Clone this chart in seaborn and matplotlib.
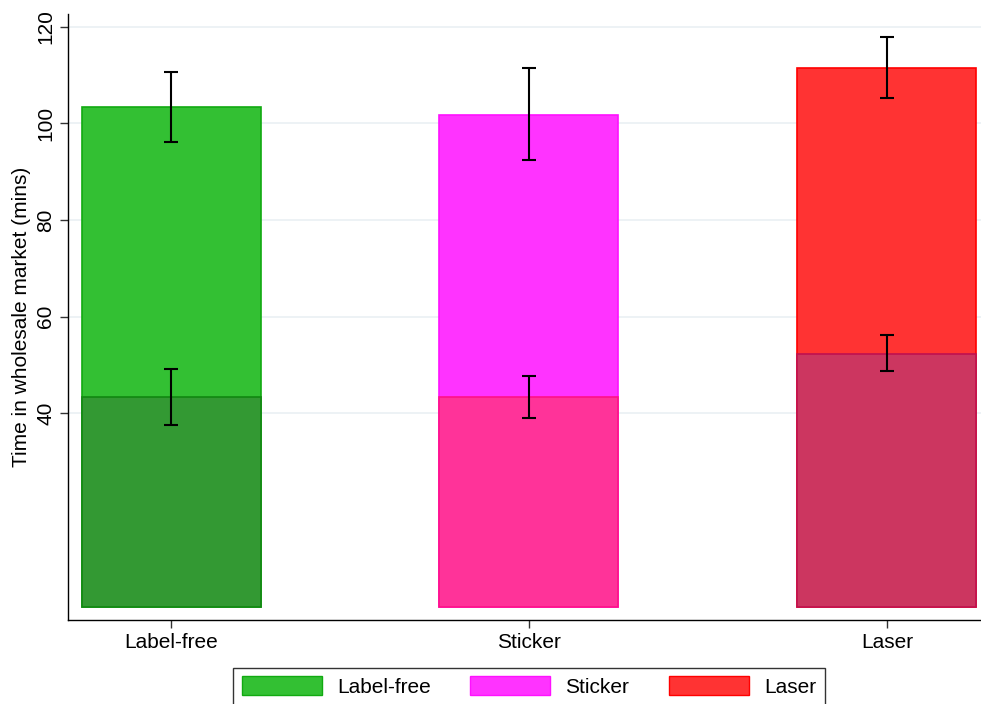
import matplotlib
matplotlib.use("Agg")
import matplotlib.pyplot as plt
import seaborn as sns
import pandas as pd
import numpy as np
from matplotlib.patches import Patch

categories = ["Label-free", "Sticker", "Laser"]
total_mean = [103.3, 101.7, 111.4]
total_lo = [96.2, 92.4, 105.2]
total_hi = [110.7, 111.5, 117.8]
part_mean = [43.3, 43.3, 52.3]
part_lo = [37.6, 39.0, 48.8]
part_hi = [49.1, 47.8, 56.1]

top_colors = ["#33C033", "#FF33FF", "#FF3333"]
top_edges = ["#11AA11", "#FF11FF", "#FF0000"]
low_colors = ["#339933", "#FF3399", "#CC3660"]
low_edges = ["#118811", "#FF1188", "#C01050"]

sns.set_theme(style="white")
plt.rcParams["font.family"] = ["Liberation Sans", "DejaVu Sans"]
plt.rcParams.update({"text.color": "black", "axes.labelcolor": "black",
                     "xtick.color": "black", "ytick.color": "black"})

df_total = pd.DataFrame({"cat": categories, "val": total_mean})
df_part = pd.DataFrame({"cat": categories, "val": part_mean})

fig = plt.figure(figsize=(9.81, 7.04), dpi=100)
ax = fig.add_axes([68/981, (704-620)/704, (981-68)/981, (620-14)/704])

sns.barplot(data=df_total, x="cat", y="val", hue="cat", palette=top_colors,
            width=0.5, ax=ax, legend=False, errorbar=None, saturation=1)
n = len(categories)
for i, p in enumerate(ax.patches[:n]):
    p.set_edgecolor(top_edges[i]); p.set_linewidth(1.2)
sns.barplot(data=df_part, x="cat", y="val", hue="cat", palette=low_colors,
            width=0.5, ax=ax, legend=False, errorbar=None, saturation=1)
for i, p in enumerate(ax.patches[n:2*n]):
    p.set_edgecolor(low_edges[i]); p.set_linewidth(1.2)

x = np.arange(n)
for m, lo, hi in [(total_mean, total_lo, total_hi), (part_mean, part_lo, part_hi)]:
    m = np.array(m); lo = np.array(lo); hi = np.array(hi)
    ax.errorbar(x, m, yerr=[m - lo, hi - m], fmt="none", ecolor="black",
                elinewidth=1.5, capsize=5, capthick=1.5, zorder=5)

FS = 15
ax.set_xlim(-0.288, 2.263)
ax.set_ylim(-2.76, 122.6)
ax.set_yticks([40, 60, 80, 100, 120])
ax.set_yticklabels(["40", "60", "80", "100", "120"], rotation=90, va="center", fontsize=FS)
ax.set_xticks(x)
ax.set_xticklabels(categories, fontsize=FS)
ax.set_xlabel("")
ax.set_ylabel("Time in wholesale market (mins)", fontsize=FS, labelpad=4, color="black")
ax.grid(axis="y", color="#EAF0F3", linewidth=1.2)
ax.set_axisbelow(True)
for s in ["top", "right"]:
    ax.spines[s].set_visible(False)
for s in ["left", "bottom"]:
    ax.spines[s].set_color("black"); ax.spines[s].set_linewidth(1.0)
ax.tick_params(axis="both", which="both", length=6, width=1, color="#333333",
               left=True, bottom=True, labelcolor="black")
ax.tick_params(axis="y", pad=3)
ax.tick_params(axis="x", pad=3)

handles = [Patch(facecolor=top_colors[i], edgecolor=top_edges[i], label=categories[i]) for i in range(n)]
leg = fig.legend(handles=handles, loc="upper center", bbox_to_anchor=(529/981, (704-668)/704),
                 ncol=3, frameon=True, fancybox=False, edgecolor="black", fontsize=FS,
                 handlelength=3.85, handleheight=1.0, columnspacing=1.9, handletextpad=0.72,
                 borderpad=0.4, borderaxespad=0, labelcolor="black")
leg.get_frame().set_linewidth(1.0)

fig.savefig("out.png", dpi=100)
